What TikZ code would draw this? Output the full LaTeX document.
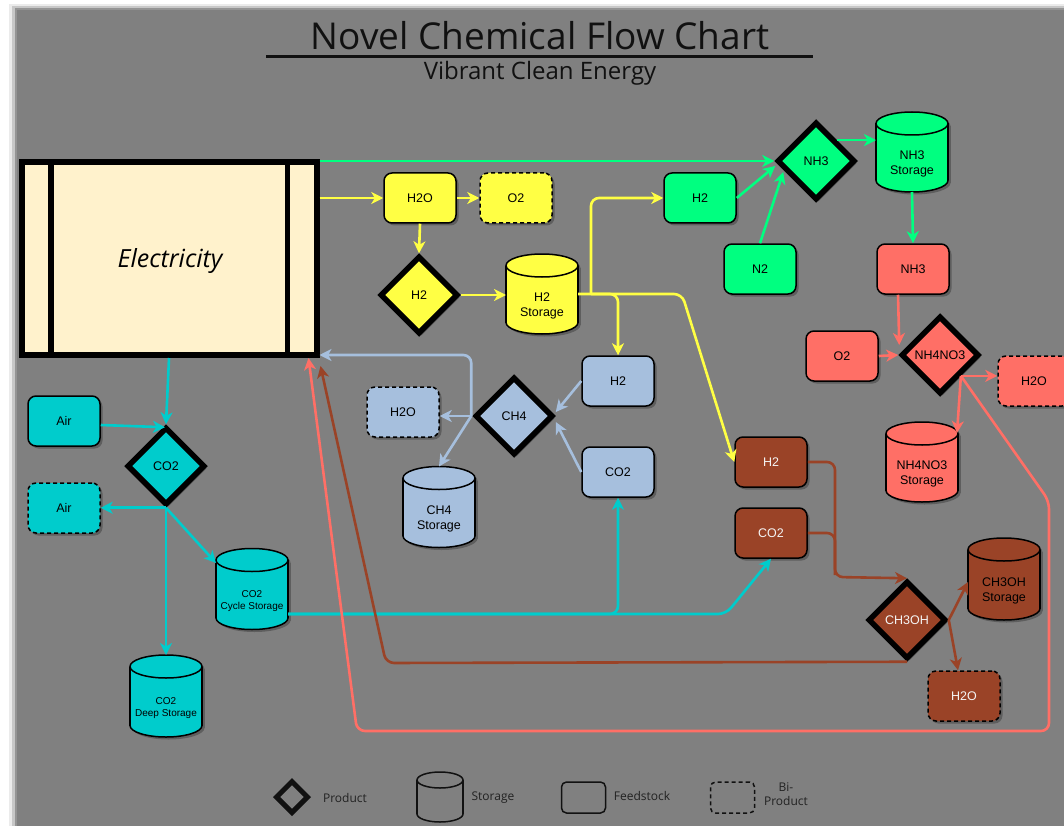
\documentclass[tikz,border=0pt]{standalone}
\usepackage{fontspec}
\setmainfont{Liberation Sans}
\newfontfamily\osans{Open Sans}
\usetikzlibrary{shapes.geometric,arrows.meta,shadows,calc}
\definecolor{bg}{HTML}{808080}
\definecolor{shadowc}{HTML}{5E5E5E}
\definecolor{cream}{HTML}{FFF2CC}
\definecolor{yel}{HTML}{FFFF44}
\definecolor{grn}{HTML}{00FF80}
\definecolor{sal}{HTML}{FF6F66}
\definecolor{blu}{HTML}{A6BFDD}
\definecolor{brn}{HTML}{9A4327}
\definecolor{cyn}{HTML}{00CCCC}
\definecolor{legc}{HTML}{111111}
\definecolor{legt}{HTML}{222222}
\definecolor{wtxt}{HTML}{F4F4F4}
\tikzset{
  lbl/.style={font=\fontsize{12.5}{14.5}\selectfont},
  feed/.style={rectangle, rounded corners=8pt, draw=black, line width=1.5pt,
    minimum width=72pt, minimum height=50pt, inner sep=0pt, lbl,
    drop shadow={shadow xshift=2.5pt, shadow yshift=-2.5pt, fill=shadowc, opacity=1}},
  byp/.style={feed, dash pattern=on 4pt off 3pt},
  prod/.style={diamond, aspect=1, draw=black, line width=5.5pt,
    minimum width=78pt, minimum height=78pt, inner sep=0pt, lbl,
    drop shadow={shadow xshift=2.5pt, shadow yshift=-2.5pt, fill=shadowc, opacity=1}},
  elecbox/.style={rectangle, draw=black, fill=cream, line width=6pt,
    minimum width=295pt, minimum height=193pt, inner sep=0pt},
  con/.style={line width=2.6pt, rounded corners=8pt, -{Stealth[length=12pt,width=12pt,inset=3.5pt]}},
  ln/.style={line width=2.6pt, rounded corners=8pt},
  cyltxt/.style={lbl, align=center},
  smalltxt/.style={font=\fontsize{10}{12}\selectfont, align=center},
  legtxt/.style={font=\osans\fontsize{12}{14}\selectfont, text=legt, align=center},
}
% cylinder: name, x, y, fill, height, text style, text
\newcommand\mkcyl[7]{%
  \begin{scope}[shift={(#2,#3)}]
    \pgfmathsetmacro\cylEy{#5/2-11.5}
    \begin{scope}[shift={(2.5,2.5)}]
      \fill[shadowc] (0,\cylEy) ellipse (36 and 11.5);
      \fill[shadowc] (-36,-\cylEy) rectangle (36,\cylEy);
      \fill[shadowc] (0,-\cylEy) ellipse (36 and 11.5);
    \end{scope}
    \filldraw[fill=#4,draw=black,line width=1.5pt] (0,\cylEy) ellipse (36 and 11.5);
    \fill[#4] (-36,-\cylEy) rectangle (36,\cylEy);
    \draw[line width=1.5pt] (-36,-\cylEy) -- (-36,\cylEy) (36,-\cylEy) -- (36,\cylEy);
    \filldraw[fill=#4,draw=black,line width=1.5pt] (0,-\cylEy) ellipse (36 and 11.5);
    \node[#6] (#1-txt) at (0,12) {#7};
  \end{scope}
  \node[minimum width=72pt, minimum height=#5pt, inner sep=0pt, outer sep=0pt] (#1) at (#2,#3) {};
}
\begin{document}
\begin{tikzpicture}[x=1pt,y=-1pt]
\useasboundingbox (0,0) rectangle (1064,826);
% background with soft edge shadow
\fill[white] (0,0) rectangle (1064,826);
\fill[black!8] (9,4) rectangle (1064,826);
\fill[black!22] (12,6) rectangle (1064,826);
\fill[black!42] (15,8) rectangle (1064,826);
\fill[bg] (17,10) rectangle (1064,826);

% title
\node[font=\osans\fontsize{37}{40}\selectfont, anchor=base, text=legc] (title) at (540,50) {Novel Chemical Flow Chart};
\draw[line width=3pt, legc] (266,57) -- (813,57);
\node[font=\osans\fontsize{24}{26}\selectfont, anchor=base, text=legc] (subtitle) at (540,80) {Vibrant Clean Energy};

% electricity
\node[elecbox] (elec) at (169,258.5) {};
\draw[line width=5.5pt] (51,162) -- (51,355) (287.5,162) -- (287.5,355);
\node[font=\osans\itshape\fontsize{25}{28}\selectfont] (electxt) at (170,261) {Electricity};
\coordinate (eBlu) at ($(elec.south east)+(0,-3)$);
\coordinate (eRed) at ($(elec.south east)+(-11,0)$);
\coordinate (eBrn) at ($(elec.south east)+(1,8)$);

% yellow
\node[feed,fill=yel] (yH2O) at (420,198) {H2O};
\node[byp,fill=yel] (yO2) at (516,198) {O2};
\node[prod,fill=yel] (yH2) at (419,295) {H2};
\mkcyl{yH2S}{542}{294}{yel}{80}{cyltxt}{H2\\Storage}

% green
\node[feed,fill=grn] (gH2) at (700,198) {H2};
\node[prod,fill=grn] (gNH3) at (816,161) {NH3};
\node[feed,fill=grn] (gN2) at (760,269) {N2};
\mkcyl{gNH3S}{912}{152}{grn}{80}{cyltxt}{NH3\\Storage}

% salmon
\node[feed,fill=sal] (rNH3) at (913,269) {NH3};
\node[feed,fill=sal] (rO2) at (842,356) {O2};
\node[prod,fill=sal] (rNH4) at (940,355) {NH4NO3};
\node[byp,fill=sal] (rH2O) at (1034,381) {H2O};
\mkcyl{rStor}{922}{462}{sal}{80}{cyltxt}{NH4NO3\\Storage}

% blue
\node[feed,fill=blu] (bH2) at (618,381) {H2};
\node[feed,fill=blu] (bCO2) at (618,472) {CO2};
\node[prod,fill=blu] (bCH4) at (514,416) {CH4};
\node[byp,fill=blu] (bH2O) at (403,412) {H2O};
\mkcyl{bStor}{439}{507}{blu}{81}{cyltxt}{CH4\\Storage}

% brown
\node[feed,fill=brn,text=wtxt] (nH2) at (771,462) {H2};
\node[feed,fill=brn,text=wtxt] (nCO2) at (771,533) {CO2};
\node[prod,fill=brn,text=wtxt] (nCH3OH) at (907,620) {CH3OH};
\node[byp,fill=brn,text=wtxt] (nH2O) at (964,696) {H2O};
\mkcyl{nStor}{1004}{579}{brn}{82}{cyltxt}{CH3OH\\Storage}

% cyan
\node[feed,fill=cyn] (cAir) at (64,421) {Air};
\node[prod,fill=cyn] (cCO2) at (166,466) {CO2};
\node[byp,fill=cyn] (cAirB) at (64,508) {Air};
\mkcyl{cCyc}{252}{589}{cyn}{81}{smalltxt}{CO2\\Cycle Storage}
\mkcyl{cDeep}{166}{696}{cyn}{82}{smalltxt}{CO2\\Deep Storage}

% ---------- connectors ----------
% green
\draw[con,grn] (elec.east |- gNH3.west) -- (gNH3.west);
\draw[con,grn] (gH2.east) -- ($(gNH3.west)+(1,5)$);
\draw[con,grn] (gN2.north) -- ($(gNH3.west)+(9,11)$);
\draw[con,grn] (gNH3.north east) -- (gNH3.north east -| gNH3S.west);
\draw[con,grn] (gNH3S.south) -- (rNH3.north);

% yellow
\draw[con,yel] (elec.east |- yH2O.west) -- (yH2O.west);
\draw[con,yel] (yH2O.east) -- (yO2.west);
\draw[con,yel] (yH2O.south) -- (yH2.north);
\draw[con,yel] (yH2.east) -- (yH2S.west |- yH2.east);
\coordinate (yj) at (591,294);
\draw[con,yel] (yH2S.east) -- (682,294) -- (nH2.west);
\draw[con,yel] (yj) |- (gH2.west);
\draw[con,yel] (yj) -| (bH2.north);

% blue
\draw[con,blu] (bH2.west) -- ($(bCH4.east)+(0,-4)$);
\draw[con,blu] (bCO2.west) -- ($(bCH4.east)+(0,6)$);
\coordinate (bj) at ($(bCH4.west)+(-1,0)$);
\draw[con,blu] (bj) -- (bH2O.east |- bj);
\draw[con,blu] (bj) -- (bStor.north);
\draw[con,blu] (bj) |- (eBlu);

% cyan
\draw[con,cyn] (elec.south) -- (cCO2.north);
\draw[con,cyn] ($(cAir.east)+(0,4)$) -- ($(cCO2.north)+(-1,3)$);
\draw[con,cyn] (cCO2.south) -- (cAirB.east |- cCO2.south);
\draw[con,cyn] (cCO2.south) -- (cDeep.north);
\draw[con,cyn] (cCO2.south) -- ($(cCyc.west)+(0,-26)$);
\coordinate (cj) at ($(cCyc.east)+(0,25)$);
\draw[con,cyn] (cj) -- (726,614) -- (nCO2.south);
\draw[con,cyn] (cj) -| (bCO2.south);

% brown
\draw[con,brn] (nH2.east) -- (835,462) -- (835,577) -- (nCH3OH.north);
\draw[ln,brn] (nCO2.east) -- (835,533) -- (835,575);
\draw[con,brn] (nCH3OH.east) -- ($(nStor.west)+(0,3)$);
\draw[con,brn] (nCH3OH.east) -- ($(nH2O.north)+(-6,0)$);
\draw[con,brn] (nCH3OH.south) -- (386,663) -- (eBrn);

% salmon
\draw[con,sal] ($(rNH3.south)+(-15,0)$) -- ($(rNH4.west)+(1,-10)$);
\draw[con,sal] (rO2.east) -- (rNH4.west);
\coordinate (rj) at (rNH4.south east);
\draw[con,sal] (rj) -- (rH2O.west |- rj);
\draw[con,sal] (rj) -- ($(rStor.north east)+(-1,11)$);
\draw[con,sal] (rj) -- (1049,501) -- (1049,731) -- (357,731) -- (eRed);

% ---------- legend ----------
\node[diamond, aspect=1, draw=legc, line width=5pt, minimum width=33pt, minimum height=33pt, inner sep=0pt] (lgProd) at (292,797) {};
\node[legtxt] (lgProdT) at (345,798) {Product};
\draw[legc, line width=1.5pt] (440,780) ellipse (23 and 8);
\draw[legc, line width=1.5pt] (417,780) -- (417,814) (463,780) -- (463,814);
\begin{scope}
  \clip (414,814) rectangle (466,826);
  \draw[legc, line width=1.5pt] (440,814) ellipse (23 and 8);
\end{scope}
\node[minimum width=46pt, minimum height=51pt, inner sep=0pt] (lgStor) at (440,797) {};
\node[legtxt] (lgStorT) at (493,798) {Storage};
\node[rectangle, rounded corners=5pt, draw=legc, line width=1.5pt, minimum width=44pt, minimum height=31pt, inner sep=0pt] (lgFeed) at (583.5,797.5) {};
\node[legtxt] (lgFeedT) at (642,796) {Feedstock};
\node[rectangle, rounded corners=5pt, draw=legc, line width=1.5pt, dash pattern=on 4pt off 3pt, minimum width=44pt, minimum height=31pt, inner sep=0pt] (lgBy) at (732.5,797.5) {};
\node[legtxt, font=\osans\fontsize{12}{14}\selectfont] (lgByT) at (786,794) {Bi-\\Product};
\end{tikzpicture}
\end{document}
